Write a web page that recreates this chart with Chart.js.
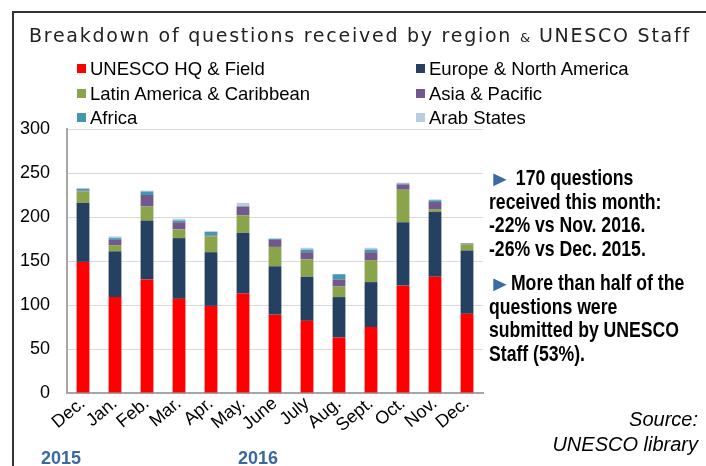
<!DOCTYPE html>
<html>
<head>
<meta charset="utf-8">
<script src="https://cdn.jsdelivr.net/npm/chart.js@4.4.1/dist/chart.umd.min.js"></script>
<style>
  body { margin: 0; width: 706px; height: 466px; position: relative; overflow: hidden; background: #fff;
         font-family: 'Liberation Sans', Arial, sans-serif; color: #000; }
  #frame { position: absolute; left: 12px; top: 11px; width: 720px; height: 480px;
           border-top: 2px solid #333; border-left: 2px solid #333; }
  #chart { position: absolute; left: 0; top: 0; }
  #title { position: absolute; left: 29px; top: 24px; font-family: 'DejaVu Sans', Verdana, sans-serif;
           font-size: 19px; line-height: 22px; letter-spacing: 1.75px; color: #222; white-space: nowrap; }
  #title .amp { font-size: 13px; letter-spacing: 1px; }
  .leg { position: absolute; font-size: 18.5px; line-height: 18px; white-space: nowrap; }
  .leg i { position: absolute; left: -13px; top: 4px; width: 9px; height: 9px; }
  .note { position: absolute; left: 489px; font-weight: bold; font-size: 21.5px; line-height: 23.5px;
          white-space: nowrap; transform: scaleX(0.82); transform-origin: 0 0; }
  .note b { color: #3b6aa5; font-size: 27px; line-height: 20px; display: inline-block;
            transform: translateY(3px) scaleY(0.8); }
  .year { position: absolute; top: 449px; font-weight: bold; font-size: 18px; line-height: 18px; color: #3a68a2; }
  #source { position: absolute; right: 8px; top: 407px; font-style: italic; font-size: 20px; line-height: 25px; text-align: right; }
</style>
</head>
<body>
<div id="frame"></div>
<canvas id="chart" width="706" height="466"></canvas>
<div id="title">Breakdown of questions received by region <span class="amp">&amp;</span> UNESCO Staff</div>
<div id="legend"></div>
<div class="note" style="top:166px"><b>&#9658;</b> 170 questions<br>received this month:<br>-22% vs Nov. 2016.<br>-26% vs Dec. 2015.</div>
<div class="note" style="top:271px"><b>&#9658;</b>More than half of the<br>questions were<br>submitted by UNESCO<br>Staff (53%).</div>
<div class="year" style="left:41px">2015</div>
<div class="year" style="left:238px">2016</div>
<div id="source">Source:<br>UNESCO library</div>
<script>
// months Dec. 2015 -> Dec. 2016
const months = ['Dec.', 'Jan.', 'Feb.', 'Mar.', 'Apr.', 'May.', 'June', 'July', 'Aug.', 'Sept.', 'Oct.', 'Nov.', 'Dec.'];

const unescoStaff   = [149, 109, 129, 107,  99, 113,  89,  82,  63,  75, 122, 132, 90];
const europeNorthAm = [ 67,  52,  67,  69,  61,  69,  55,  50,  46,  51,  72,  74, 72];
const latinAmerica  = [ 13,   7,  16,  10,  18,  20,  22,  20,  12,  25,  37,   3,  7];
const asiaPacific   = [  1,   6,  13,   8,   1,  10,   8,   8,   8,   9,   6,   8,  1];
const africa        = [  2,   2,   4,   2,   4,   0,   1,   3,   6,   3,   1,   2,  0];
const arabStates    = [  1,   2,   1,   2,   1,   4,   1,   2,   0,   2,   1,   1,  0];

const yTicks = [0, 50, 100, 150, 200, 250, 300];

const series = [
  { label: 'UNESCO HQ & Field',          data: unescoStaff,   color: '#ff0000' },
  { label: 'Europe & North America',     data: europeNorthAm, color: '#254061' },
  { label: 'Latin America & Caribbean',  data: latinAmerica,  color: '#8aa44c' },
  { label: 'Asia & Pacific',             data: asiaPacific,   color: '#72588f' },
  { label: 'Africa',                     data: africa,        color: '#4397ae' },
  { label: 'Arab States',                data: arabStates,    color: '#b8cce4' }
];

// legend: two columns, three rows
const legendDiv = document.getElementById('legend');
series.forEach((s, i) => {
  const col = i % 2, row = Math.floor(i / 2);
  const el = document.createElement('div');
  el.className = 'leg';
  el.style.left = (col === 0 ? 90 : 429) + 'px';
  el.style.top = (60 + row * 24.5) + 'px';
  el.innerHTML = '<i style="background:' + s.color + '"></i>' + s.label.replace(/&/g, '&amp;');
  legendDiv.appendChild(el);
});

new Chart(document.getElementById('chart'), {
  type: 'bar',
  data: {
    labels: months,
    datasets: series.map(s => ({
      label: s.label,
      data: s.data,
      backgroundColor: s.color,
      borderWidth: 0,
      barPercentage: 0.4,
      categoryPercentage: 1
    }))
  },
  options: {
    responsive: false,
    animation: false,
    layout: { padding: { left: 0, top: 129, right: 223, bottom: 0 } },
    plugins: { legend: { display: false }, tooltip: { enabled: false } },
    scales: {
      x: {
        stacked: true,
        grid: { display: false, drawTicks: false },
        border: { color: '#a6a6a6', width: 2 },
        ticks: {
          color: '#000',
          font: { family: "'Liberation Sans', Arial", size: 18 },
          maxRotation: 40, minRotation: 40, padding: 0, autoSkip: false
        },
        afterFit: scale => { scale.height = 73; }
      },
      y: {
        stacked: true,
        min: 0, max: 300,
        afterBuildTicks: scale => { scale.ticks = yTicks.map(v => ({ value: v })); },
        grid: { color: '#d9d9d9', lineWidth: 1, drawTicks: false },
        border: { color: '#a6a6a6', width: 2 },
        ticks: {
          color: '#000',
          font: { family: "'Liberation Sans', Arial", size: 18 },
          padding: 17
        },
        afterFit: scale => { scale.width = 67; }
      }
    }
  }
});
</script>
</body>
</html>
